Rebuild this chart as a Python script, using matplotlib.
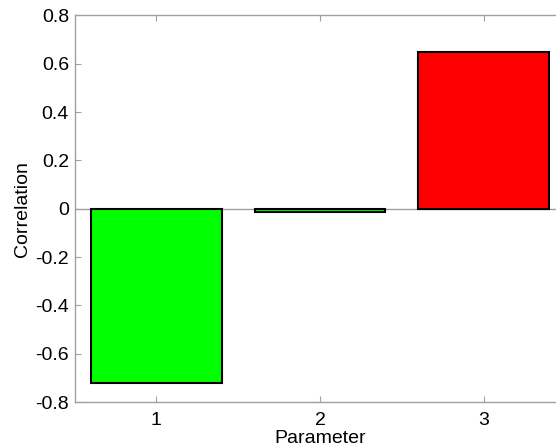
import matplotlib.pyplot as plt

# correlation per parameter
params = [1, 2, 3]
corr = [-0.722, -0.013, 0.648]
colors = ['#00ff00', '#00ff00', '#ff0000']

plt.rcParams['font.family'] = ['Liberation Sans', 'DejaVu Sans']

fig = plt.figure(figsize=(5.56, 4.48), dpi=100)
ax = fig.add_axes([74.5 / 556, 46 / 448, 491 / 556, 386.5 / 448])

ax.axhline(0, color='#a0a0a0', linewidth=1.0, zorder=1)
ax.bar(params, corr, width=0.8, color=colors, edgecolor='black', linewidth=1.5, zorder=2)

ax.set_xlim(0.5, 3.5)
ax.set_ylim(-0.8, 0.8)
ax.set_xticks(params)
ax.set_yticks([-0.8, -0.6, -0.4, -0.2, 0, 0.2, 0.4, 0.6, 0.8])
ax.set_yticklabels(['-0.8', '-0.6', '-0.4', '-0.2', '0', '0.2', '0.4', '0.6', '0.8'])
ax.tick_params(direction='in', length=4, color='#a0a0a0', labelsize=14, top=True, right=True, pad=4)
ax.tick_params(axis='x', pad=7)
for s in ax.spines.values():
    s.set_color('#a0a0a0')
    s.set_linewidth(1.0)

ax.set_xlabel('Parameter', fontsize=14, labelpad=1)
ax.set_ylabel('Correlation', fontsize=14, labelpad=3)

fig.savefig('out.png', dpi=100)
